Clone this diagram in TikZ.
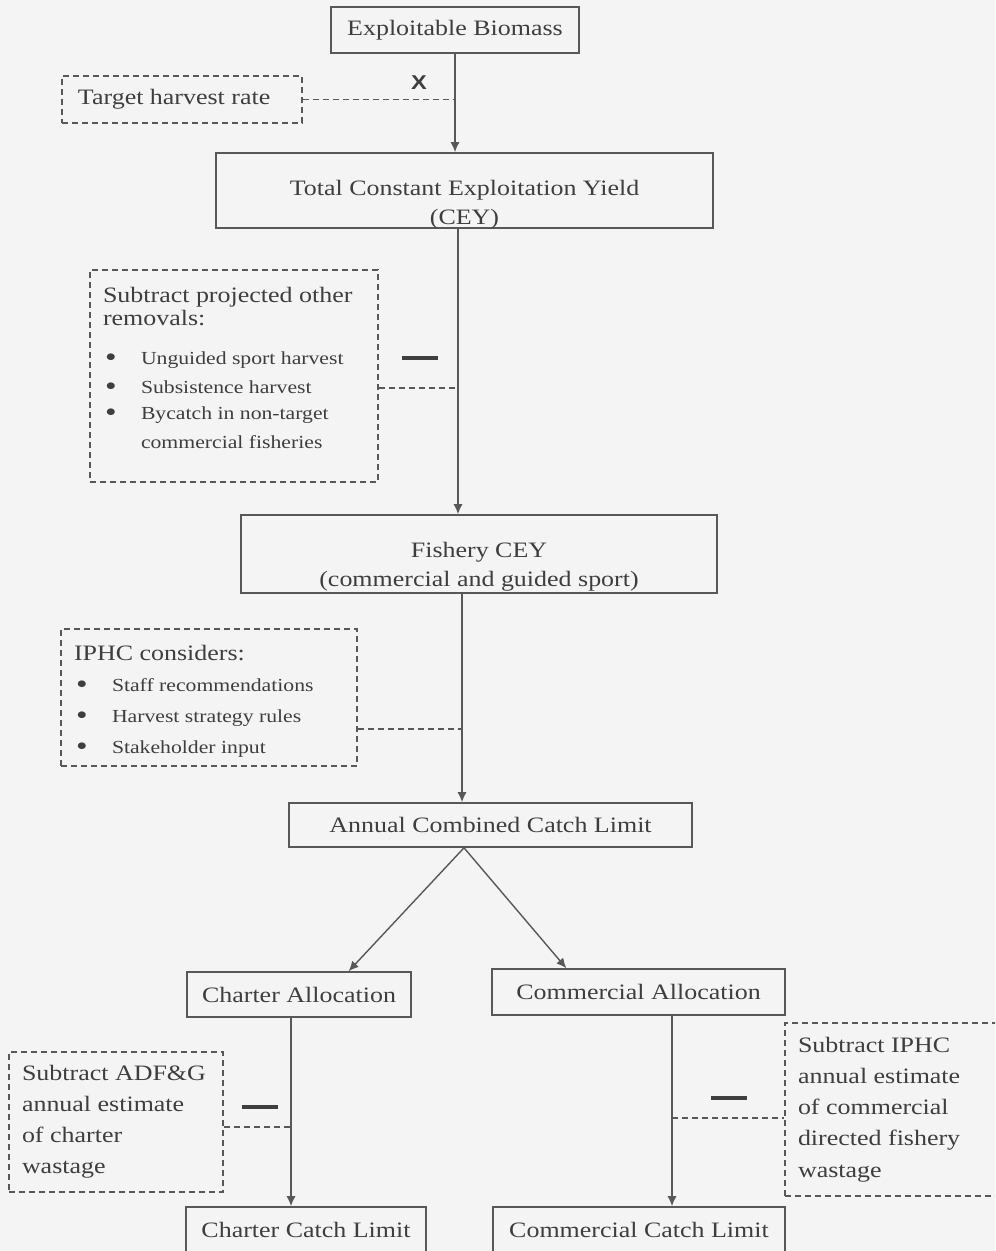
\documentclass[tikz,border=0pt]{standalone}
\usepackage{fontspec}
\setmainfont{Liberation Serif}[FakeStretch=1.18]
\setsansfont{Liberation Sans}[FakeStretch=1.18]
\usetikzlibrary{arrows.meta,calc}

\definecolor{inkc}{RGB}{62,62,62}
\definecolor{linec}{RGB}{88,88,88}
\definecolor{paperc}{RGB}{244,244,244}

% width, height, top gap, lines
\newcommand{\boxtxt}[4]{\parbox[c][#2][t]{#1}{\vspace*{#3}#4}}
\newcommand{\bul}[1]{{\fontsize{9.2}{11}\selectfont\makebox[19pt][l]{\hspace{1pt}\raisebox{-1.3pt}{\fontsize{14}{11}\selectfont\textbullet}}#1}}
\newcommand{\cont}[1]{{\fontsize{9.2}{11}\selectfont\hspace*{19pt}#1}}
\newcommand{\subbar}{\rule{18pt}{1.7pt}}

\begin{document}
\begin{tikzpicture}[x=0.5pt,y=-0.5pt,
    every node/.style={text=inkc,font=\fontsize{11}{15.5}\selectfont}]
  \fill[paperc] (0,0) rectangle (995,1251);
  \useasboundingbox (0,0) rectangle (995,1251);
  \clip (0,0) rectangle (995,1251);

  \begin{scope}[every node/.append style={draw=linec,line width=0.8pt,inner sep=0pt}]
    \node[minimum width=124pt,minimum height=23pt] (bio) at (455,30) {Exploitable Biomass};
    \node (tcey) at (464.5,190.5) {\boxtxt{248.5pt}{37.5pt}{13.5pt}{\centering\fontsize{11}{14.5}\selectfont
      Total Constant Exploitation Yield\\ (CEY)}};
    \node (fcey) at (479,554) {\boxtxt{238pt}{39pt}{13.5pt}{\centering\fontsize{11}{14.5}\selectfont
      Fishery CEY\\ (commercial and guided sport)}};
    \node[minimum width=201.5pt,minimum height=22pt] (annual) at (490.5,825) {Annual Combined Catch Limit};
    \node[minimum width=112pt,minimum height=22.5pt] (charter) at (299,994.5) {Charter Allocation};
    \node[minimum width=146.5pt,minimum height=23pt] (commercial) at (638.5,992) {Commercial Allocation};
    \node[minimum width=120pt,minimum height=23pt] (charterlim) at (306,1230) {Charter Catch Limit};
    \node[minimum width=146pt,minimum height=23pt] (commlim) at (639,1230) {Commercial Catch Limit};
  \end{scope}

  \begin{scope}[every node/.append style={draw=linec,line width=0.6pt,dash pattern=on 3pt off 2pt,
      inner xsep=6.5pt,inner ysep=0pt}]
    \node (target) at (182,99.5) {\boxtxt{107pt}{23.5pt}{6.5pt}{\raggedright\hspace*{1.5pt}Target harvest rate}};
    \node (other) at (234,376) {\boxtxt{131pt}{106pt}{8.5pt}{\fontsize{11}{11.5}\selectfont\raggedright
      Subtract projected other\\ removals:\\[8pt]
      \bul{Unguided sport harvest}\\[3pt]
      \bul{Subsistence harvest}\\[1.5pt]
      \bul{Bycatch in non-target}\\[3pt]
      \cont{commercial fisheries}}};
    \node (iphc) at (209,697.5) {\boxtxt{135pt}{68.5pt}{8pt}{\raggedright
      IPHC considers:\\
      \bul{Staff recommendations}\\
      \bul{Harvest strategy rules}\\
      \bul{Stakeholder input}}};
    \node (adfg) at (116,1122) {\boxtxt{94pt}{70pt}{6.5pt}{\raggedright
      Subtract ADF\&G\\ annual estimate\\ of charter\\ wastage}};
    \node (iphcw) at (897.5,1109.5) {\boxtxt{99.5pt}{86.5pt}{7pt}{\fontsize{11}{15.6}\selectfont\raggedright
      Subtract IPHC\\ annual estimate\\ of commercial\\ directed fishery\\ wastage}};
  \end{scope}

  % operation marks
  \node[font=\sffamily\bfseries\fontsize{10}{12}\selectfont] (xmark) at (419,83) {X};
  \node[inner sep=0pt] (minus1) at (420,358) {\subbar};
  \node[inner sep=0pt] (minus2) at (260,1107) {\subbar};
  \node[inner sep=0pt] (minus3) at (729,1098) {\subbar};

  \coordinate (j1) at (458,388);
  \coordinate (j2) at (462,729);
  \coordinate (j3) at (291,1127);
  \coordinate (j4) at (672,1118);
  \coordinate (split) at (464,0);

  \begin{scope}[every edge/.style={draw=linec,line width=0.7pt,-{Latex[length=5pt,width=4.5pt]}}]
    \path (bio.south) edge (bio.south |- tcey.north);
    \path (tcey.south -| j1) edge (fcey.north -| j1);
    \path (fcey.south -| j2) edge (annual.north -| j2);
    \path (annual.south -| split) edge ($(charter.north)!0.44!(charter.north east)$);
    \path (annual.south -| split) edge ($(commercial.north west)!0.51!(commercial.north)$);
    \path (charter.south -| j3) edge (charterlim.north -| j3);
    \path (commercial.south -| j4) edge (commlim.north -| j4);
  \end{scope}

  \begin{scope}[every edge/.style={draw=linec,line width=0.6pt,dash pattern=on 3pt off 2pt}]
    \path (target.east) edge (target.east -| bio.south);
    \path (other.east |- j1) edge (j1);
    \path (iphc.east |- j2) edge (j2);
    \path (adfg.east |- j3) edge (j3);
    \path (j4) edge (iphcw.west |- j4);
  \end{scope}
\end{tikzpicture}
\end{document}
